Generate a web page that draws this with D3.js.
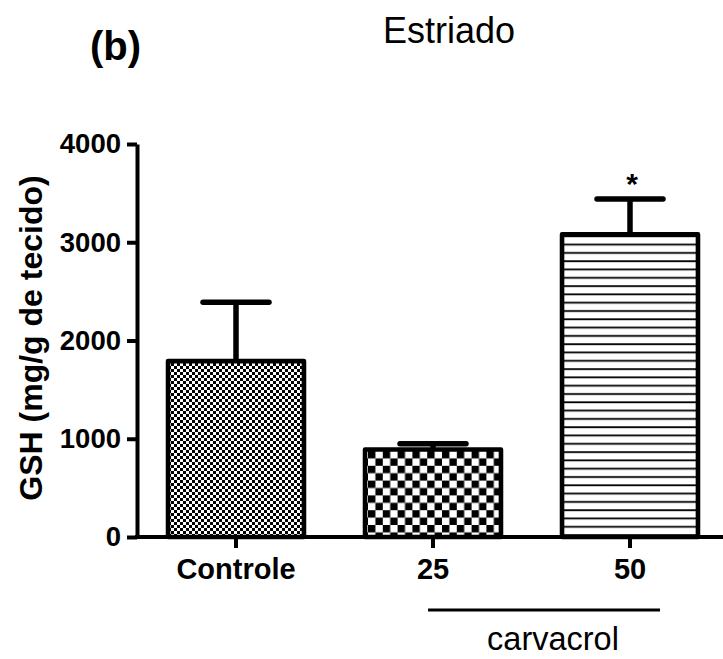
<!DOCTYPE html>
<html>
<head>
<meta charset="utf-8">
<script src="https://cdn.jsdelivr.net/npm/d3@7/dist/d3.min.js"></script>
<style>
  html, body { margin: 0; padding: 0; background: #fff; }
  svg { display: block; font-family: "Liberation Sans", Arial, sans-serif; }
</style>
</head>
<body>
<svg id="chart" width="723" height="659"></svg>
<script>
// Data
let categories = ['Controle', '25', '50'];
let means = [1790, 890, 3080];
let errors = [600, 60, 360];
let significant = [false, false, true];
let yTicks = [0, 1000, 2000, 3000, 4000];

let WIDTH = 723;
let HEIGHT = 659;

let svg = d3.select('#chart');

// Fill patterns, one per bar
let defs = svg.append('defs');

// fine checkerboard
let fine = defs.append('pattern')
  .attr('id', 'checkFine')
  .attr('patternUnits', 'userSpaceOnUse')
  .attr('width', 6).attr('height', 6);
fine.append('rect').attr('width', 6).attr('height', 6).attr('fill', '#fff');
fine.append('rect').attr('width', 3).attr('height', 3).attr('fill', '#000');
fine.append('rect').attr('x', 3).attr('y', 3).attr('width', 3).attr('height', 3).attr('fill', '#000');

// coarse checkerboard
let CELL = 7.4;
let coarse = defs.append('pattern')
  .attr('id', 'checkCoarse')
  .attr('patternUnits', 'userSpaceOnUse')
  .attr('x', 368).attr('y', 451)
  .attr('width', 2 * CELL).attr('height', 2 * CELL);
coarse.append('rect').attr('width', 2 * CELL).attr('height', 2 * CELL).attr('fill', '#fff');
coarse.append('rect').attr('width', CELL).attr('height', CELL).attr('fill', '#000');
coarse.append('rect').attr('x', CELL).attr('y', CELL).attr('width', CELL).attr('height', CELL).attr('fill', '#000');

// horizontal lines
let lines = defs.append('pattern')
  .attr('id', 'hLines')
  .attr('patternUnits', 'userSpaceOnUse')
  .attr('width', 8).attr('height', 8.3);
lines.append('rect').attr('width', 8).attr('height', 8.3).attr('fill', '#fff');
lines.append('rect').attr('y', 3).attr('width', 8).attr('height', 1.8).attr('fill', '#000');

let FILLS = ['url(#checkFine)', 'url(#checkCoarse)', 'url(#hLines)'];

// Scales
let x = d3.scaleBand()
  .domain(categories)
  .range([137.5, 728.5])
  .paddingInner(0.31)
  .paddingOuter(0.155);

let y = d3.scaleLinear()
  .domain([0, 4000])
  .range([537, 144]);

// Bars
let bars = svg.append('g').attr('class', 'bars')
  .selectAll('g.bar')
  .data(categories)
  .enter().append('g')
  .attr('class', 'bar');

// Error bars (upper only), drawn under the bar outline
bars.append('line')
  .attr('x1', d => x(d) + x.bandwidth() / 2)
  .attr('x2', d => x(d) + x.bandwidth() / 2)
  .attr('y1', (d, i) => y(means[i]))
  .attr('y2', (d, i) => y(means[i] + errors[i]))
  .attr('stroke', '#000')
  .attr('stroke-width', 5.5);
bars.append('line')
  .attr('x1', d => x(d) + x.bandwidth() / 2 - 33)
  .attr('x2', d => x(d) + x.bandwidth() / 2 + 33)
  .attr('y1', (d, i) => y(means[i] + errors[i]))
  .attr('y2', (d, i) => y(means[i] + errors[i]))
  .attr('stroke', '#000')
  .attr('stroke-width', 5.5)
  .attr('stroke-linecap', 'round');

bars.append('rect')
  .attr('x', d => x(d))
  .attr('y', (d, i) => y(means[i]))
  .attr('width', x.bandwidth())
  .attr('height', (d, i) => y(0) - y(means[i]))
  .attr('fill', (d, i) => FILLS[i])
  .attr('stroke', '#000')
  .attr('stroke-width', 4.6)
  .attr('stroke-linejoin', 'round');

// Significance marks
bars.filter((d, i) => significant[i])
  .append('text')
  .attr('x', d => x(d) + x.bandwidth() / 2 + 2)
  .attr('y', d => {
    let i = categories.indexOf(d);
    return y(means[i] + errors[i]) - 5;
  })
  .attr('text-anchor', 'middle')
  .attr('font-size', 30)
  .attr('font-weight', 'bold')
  .text('*');

// Y axis
let yAxis = svg.append('g')
  .attr('transform', 'translate(137,0)')
  .call(d3.axisLeft(y)
    .tickValues(yTicks)
    .tickFormat(d3.format('d'))
    .tickSize(10)
    .tickSizeOuter(0)
    .tickPadding(6));
yAxis.select('.domain').attr('stroke-width', 4).attr('stroke', '#000');
yAxis.selectAll('.tick line').attr('stroke-width', 4).attr('stroke', '#000');
yAxis.selectAll('.tick text')
  .attr('font-size', 27.5)
  .attr('font-weight', 'bold')
  .attr('font-family', '"Liberation Sans", Arial, sans-serif')
  .attr('fill', '#000');

// X axis, running to the right edge
svg.append('line')
  .attr('x1', 135).attr('x2', WIDTH)
  .attr('y1', y(0)).attr('y2', y(0))
  .attr('stroke', '#000')
  .attr('stroke-width', 4);

let xAxis = svg.append('g')
  .attr('transform', 'translate(0,' + y(0) + ')')
  .call(d3.axisBottom(x)
    .tickSize(11)
    .tickSizeOuter(0)
    .tickPadding(10));
xAxis.select('.domain').remove();
xAxis.selectAll('.tick line').attr('stroke-width', 4).attr('stroke', '#000');
xAxis.selectAll('.tick text')
  .attr('font-size', 29)
  .attr('font-weight', 'bold')
  .attr('font-family', '"Liberation Sans", Arial, sans-serif')
  .attr('fill', '#000');

// Y axis title
svg.append('text')
  .attr('transform', 'translate(42,338) rotate(-90)')
  .attr('text-anchor', 'middle')
  .attr('font-size', 32)
  .attr('font-weight', 'bold')
  .text('GSH (mg/g de tecido)');

// Group bracket under the carvacrol doses
let bracketLeft = x('25') + 63;
let bracketRight = x('50') + 98;
svg.append('line')
  .attr('x1', bracketLeft).attr('x2', bracketRight)
  .attr('y1', 610).attr('y2', 610)
  .attr('stroke', '#000')
  .attr('stroke-width', 3);
svg.append('text')
  .attr('x', 553)
  .attr('y', 650)
  .attr('text-anchor', 'middle')
  .attr('font-size', 32.5)
  .text('carvacrol');

// Title and panel letter
svg.append('text')
  .attr('x', 449)
  .attr('y', 43)
  .attr('text-anchor', 'middle')
  .attr('font-size', 36)
  .text('Estriado');
svg.append('text')
  .attr('x', 90)
  .attr('y', 60)
  .attr('font-size', 40)
  .attr('font-weight', 'bold')
  .text('(b)');
</script>
</body>
</html>
